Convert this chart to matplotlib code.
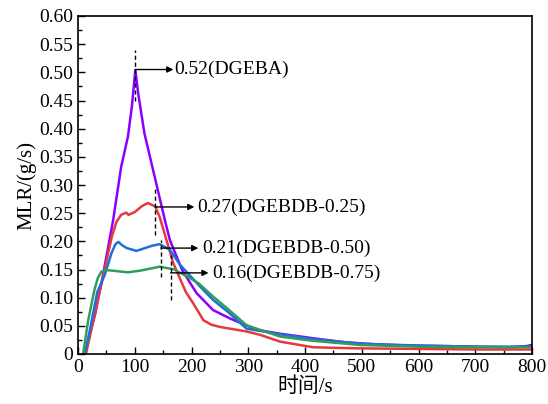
import matplotlib
matplotlib.use("Agg")
import matplotlib.pyplot as plt
from matplotlib.ticker import MultipleLocator

plt.rcParams['font.family'] = ['Liberation Serif', 'Noto Sans CJK SC']
plt.rcParams['mathtext.fontset'] = 'stix'

# DGEBA
x_a = [12, 30, 44, 62, 76, 88, 95, 101, 106, 117, 135, 153, 162, 184, 209, 238, 268, 315, 356, 414, 469, 497, 530, 584, 650, 700, 760, 790, 800]
y_a = [0.0, 0.07, 0.14, 0.238, 0.332, 0.386, 0.44, 0.504, 0.463, 0.392, 0.315, 0.238, 0.202, 0.148, 0.108, 0.078, 0.063, 0.043, 0.036, 0.028, 0.021, 0.019, 0.017, 0.015, 0.014, 0.013, 0.012, 0.014, 0.016]
# DGEBDB-0.25
x_b = [14, 25, 44, 60, 68, 76, 85, 89, 100, 112, 123, 136, 144, 168, 190, 203, 221, 235, 250, 297, 321, 356, 414, 450, 497, 600, 700, 800]
y_b = [0.0, 0.05, 0.137, 0.21, 0.235, 0.247, 0.251, 0.247, 0.252, 0.262, 0.268, 0.262, 0.243, 0.161, 0.11, 0.09, 0.060, 0.052, 0.048, 0.040, 0.034, 0.022, 0.012, 0.011, 0.010, 0.009, 0.008, 0.008]
# DGEBDB-0.50
x_c = [12, 21, 34, 47, 59, 66, 71, 78, 86, 103, 118, 130, 144, 162, 180, 192, 213, 238, 264, 297, 350, 409, 500, 600, 700, 800]
y_c = [0.0, 0.043, 0.11, 0.14, 0.179, 0.195, 0.199, 0.193, 0.188, 0.183, 0.188, 0.192, 0.195, 0.185, 0.158, 0.145, 0.122, 0.096, 0.075, 0.045, 0.036, 0.027, 0.018, 0.015, 0.013, 0.013]
# DGEBDB-0.75
x_d = [9, 18, 29, 35, 41, 50, 60, 88, 110, 144, 170, 180, 194, 213, 238, 264, 297, 356, 409, 497, 600, 700, 800]
y_d = [0.0, 0.06, 0.114, 0.135, 0.146, 0.149, 0.148, 0.145, 0.148, 0.155, 0.150, 0.144, 0.137, 0.125, 0.102, 0.080, 0.051, 0.031, 0.024, 0.016, 0.013, 0.012, 0.012]

colors = ['#8b00ff', '#e8383d', '#1f6fd6', '#2e9e5e']

labels = ['0.52(DGEBA)', '0.27(DGEBDB-0.25)', '0.21(DGEBDB-0.50)', '0.16(DGEBDB-0.75)']
dash_x = [101, 136, 146, 163]
dash_y0 = [0.45, 0.211, 0.137, 0.096]
dash_y1 = [0.54, 0.296, 0.202, 0.176]
arrow_y = [0.505, 0.261, 0.188, 0.144]
arrow_x1 = [168, 205, 212, 230]
text_x = [170, 210, 219, 237]

fig = plt.figure(figsize=(5.48, 4.04), dpi=100)
ax = fig.add_axes([78/548, 50/404, (532-78)/548, (354-16)/404])

for xs, ys, c in zip([x_a, x_b, x_c, x_d], [y_a, y_b, y_c, y_d], colors):
    ax.plot(xs, ys, color=c, lw=1.8, solid_joinstyle='round')

for i in range(4):
    ax.plot([dash_x[i], dash_x[i]], [dash_y0[i], dash_y1[i]], color='black', lw=1, ls=(0, (3, 2)))
    ax.annotate('', xy=(arrow_x1[i], arrow_y[i]), xytext=(dash_x[i], arrow_y[i]),
                arrowprops=dict(arrowstyle='-|>', color='black', lw=1, mutation_scale=9,
                                shrinkA=0, shrinkB=0))
    ax.text(text_x[i], arrow_y[i], labels[i], fontsize=14, va='center', ha='left')

ax.set_xlim(0, 800)
ax.set_ylim(0, 0.6)
ax.xaxis.set_major_locator(MultipleLocator(100))
ax.xaxis.set_minor_locator(MultipleLocator(50))
ax.yaxis.set_minor_locator(MultipleLocator(0.025))
ax.set_yticks([i * 0.05 for i in range(13)])
ax.set_yticklabels(['0'] + ['%.2f' % (i * 0.05) for i in range(1, 13)])
ax.tick_params(which='both', direction='in', labelsize=14, top=False, right=False)
ax.tick_params(which='major', length=5, width=1)
ax.tick_params(which='minor', length=3, width=1)
for s in ax.spines.values():
    s.set_linewidth(1.2)
ax.set_xlabel('时间/s', fontsize=15, labelpad=1)
ax.set_ylabel('MLR/(g/s)', fontsize=15, labelpad=2)

fig.savefig('out.png', dpi=100)
